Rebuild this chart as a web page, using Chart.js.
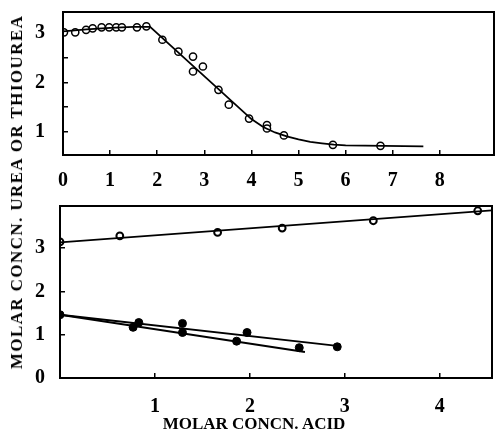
<!DOCTYPE html>
<html>
<head>
<meta charset="utf-8">
<script src="https://cdn.jsdelivr.net/npm/chart.js@4.4.1/dist/chart.umd.min.js"></script>
<style>
    body { margin: 0; background: #fff; }
    #wrap { position: relative; width: 495px; height: 441px; overflow: hidden; }
    canvas { position: absolute; left: 0; }
    #chartTop { top: 0; }
    #chartBottom { top: 200px; }
    .title { position: absolute; font: bold 17px "Liberation Serif", serif; color: #000; white-space: nowrap; }
    #xTitle { left: 0; width: 508px; text-align: center; top: 414px; }
    #yTitle { left: 17px; top: 192px; transform: translate(-50%, -50%) rotate(-90deg); letter-spacing: 1.4px; }
</style>
</head>
<body>
<div id="wrap">
    <canvas id="chartTop" width="495" height="200"></canvas>
    <canvas id="chartBottom" width="495" height="241"></canvas>
    <div class="title" id="xTitle">MOLAR CONCN. ACID</div>
    <div class="title" id="yTitle">MOLAR CONCN. UREA OR THIOUREA</div>
</div>
<script>
// upper panel: measured points and drawn curve
const topX = [0.02, 0.26, 0.49, 0.63, 0.82, 0.98, 1.13, 1.25, 1.57, 1.77, 2.11, 2.45, 2.76, 2.76, 2.97, 3.30, 3.52, 3.95, 4.33, 4.33, 4.69, 5.73, 6.74];
const topY = [3.01, 3.01, 3.06, 3.09, 3.11, 3.11, 3.11, 3.11, 3.11, 3.13, 2.86, 2.62, 2.52, 2.22, 2.32, 1.85, 1.55, 1.27, 1.14, 1.07, 0.93, 0.74, 0.72];
const topCurveX = [0, 0.5, 1.0, 1.5, 1.85, 4.0, 4.25, 4.5, 4.75, 5.0, 5.25, 5.5, 5.75, 6.0, 7.65];
const topCurveY = [3.03, 3.07, 3.10, 3.12, 3.12, 1.26, 1.10, 0.99, 0.91, 0.85, 0.80, 0.77, 0.745, 0.73, 0.71];
const topXTicks = [0, 1, 2, 3, 4, 5, 6, 7, 8];
const topYTicks = [1, 1.5, 2, 2.5, 3];

// lower panel: three series
const upperX = [0, 0.63, 1.66, 2.34, 3.30, 4.40];
const upperY = [3.14, 3.28, 3.36, 3.46, 3.63, 3.86];
const upperLineX = [0, 4.55];
const upperLineY = [3.13, 3.87];
const lowAX = [0, 0.83, 1.29, 1.97, 2.92];
const lowAY = [1.46, 1.28, 1.26, 1.05, 0.72];
const lowALineX = [0, 2.92];
const lowALineY = [1.46, 0.74];
const lowBX = [0.77, 1.29, 1.86, 2.52];
const lowBY = [1.17, 1.05, 0.85, 0.70];
const lowBLineX = [0, 2.58];
const lowBLineY = [1.46, 0.60];
const botXTicks = [1, 2, 3, 4];
const botYTicks = [0, 1, 2, 3];

const pts = (xs, ys) => xs.map((x, i) => ({x: x, y: ys[i]}));

const frame = {
    id: 'frame',
    afterDraw: (chart) => {
        const a = chart.chartArea, ctx = chart.ctx;
        ctx.save();
        ctx.strokeStyle = '#000';
        ctx.lineWidth = 2;
        ctx.strokeRect(a.left, a.top, a.right - a.left, a.bottom - a.top);
        ctx.restore();
    }
};

const tickFont = {family: '"Liberation Serif", serif', weight: 'bold', size: 20};

function axis(opts) {
    return {
        type: 'linear',
        min: opts.min,
        max: opts.max,
        afterBuildTicks: (s) => { s.ticks = opts.ticks.map(v => ({value: v})); },
        afterFit: (s) => {
            if (opts.width !== undefined) s.width = opts.width;
            if (opts.height !== undefined) s.height = opts.height;
            s.paddingTop = 0;
            s.paddingBottom = 0;
            s.paddingLeft = 0;
            s.paddingRight = 0;
        },
        border: {display: false},
        grid: {drawOnChartArea: false, tickLength: -5, color: '#000', lineWidth: 1.5},
        ticks: {
            color: '#000',
            font: tickFont,
            padding: opts.padding,
            autoSkip: false,
            maxRotation: 0,
            callback: (v) => Number.isInteger(v) ? String(v) : ''
        }
    };
}

const common = {
    responsive: false,
    animation: false,
    plugins: {legend: {display: false}, tooltip: {enabled: false}}
};

new Chart(document.getElementById('chartTop'), {
    type: 'scatter',
    data: {
        datasets: [{
            data: pts(topCurveX, topCurveY),
            showLine: true,
            borderColor: '#000',
            borderWidth: 1.8,
            pointRadius: 0,
            tension: 0
        }, {
            data: pts(topX, topY),
            pointRadius: 3.6,
            pointBorderWidth: 1.5,
            pointBorderColor: '#000',
            pointBackgroundColor: '#fff'
        }]
    },
    options: Object.assign({}, common, {
        layout: {autoPadding: false, padding: {left: 0, top: 12, right: 1, bottom: 0}},
        scales: {
            x: axis({min: 0, max: 9.15, ticks: topXTicks, height: 45, padding: 19}),
            y: axis({min: 0.535, max: 3.42, ticks: topYTicks, width: 63, padding: 23})
        }
    }),
    plugins: [frame]
});

const lineSet = (xs, ys) => ({
    data: pts(xs, ys),
    showLine: true,
    borderColor: '#000',
    borderWidth: 1.8,
    pointRadius: 0
});

new Chart(document.getElementById('chartBottom'), {
    type: 'scatter',
    data: {
        datasets: [
            lineSet(upperLineX, upperLineY),
            lineSet(lowALineX, lowALineY),
            lineSet(lowBLineX, lowBLineY),
            {
                data: pts(upperX, upperY),
                pointRadius: 3.4,
                pointBorderWidth: 2,
                pointBorderColor: '#000',
                pointBackgroundColor: '#fff'
            }, {
                data: pts(lowAX, lowAY),
                pointRadius: 4,
                pointBorderWidth: 1,
                pointBorderColor: '#000',
                pointBackgroundColor: '#000'
            }, {
                data: pts(lowBX, lowBY),
                pointRadius: 4,
                pointBorderWidth: 1,
                pointBorderColor: '#000',
                pointBackgroundColor: '#000'
            }
        ]
    },
    options: Object.assign({}, common, {
        layout: {autoPadding: false, padding: {left: 0, top: 6, right: 3, bottom: 0}},
        scales: {
            x: axis({min: 0, max: 4.55, ticks: botXTicks, height: 63, padding: 22}),
            y: axis({min: 0, max: 3.97, ticks: botYTicks, width: 60, padding: 20})
        }
    }),
    plugins: [frame]
});
</script>
</body>
</html>
